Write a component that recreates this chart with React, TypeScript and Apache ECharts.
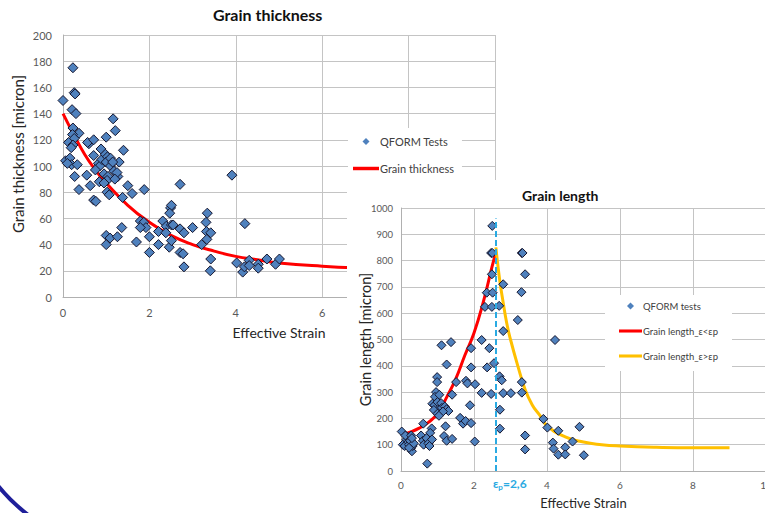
import React, { useEffect, useRef } from "react";
import * as echarts from "echarts";

const FONT = "Lato, 'Open Sans', sans-serif";

// Grain thickness – QFORM test points: [effective strain, thickness in micron]
const thicknessTests: number[][] = [
  [0.23, 175], [0, 150], [0.26, 156], [0.28, 155], [0.21, 143], [0.3, 140], [0.23, 129], [0.37, 125],
  [0.22, 124], [0.26, 121], [0.13, 118], [0.23, 116], [0.19, 114], [0.06, 104], [0.16, 106], [0.2, 101],
  [0.33, 101], [0.1, 102], [0.27, 92], [0.37, 82],
  [0.6, 117], [0.57, 118], [0.71, 120], [0.55, 93], [0.63, 85], [0.71, 74], [0.76, 73], [0.71, 108],
  [0.88, 113], [0.82, 102], [0.85, 100], [0.75, 97], [0.84, 88], [0.9, 105],
  [1.0, 122], [1.16, 136], [1.21, 127], [0.98, 109], [1.03, 107], [1.0, 103], [0.95, 94], [1.1, 100],
  [1.04, 92], [1.18, 96], [1.27, 92], [1.3, 103], [1.4, 112], [1.02, 89], [1.02, 80], [1.07, 78],
  [1.5, 85], [1.6, 79], [1.38, 76], [1.88, 82], [1.1, 106], [1.15, 103], [1.25, 95], [0.95, 87], [1.2, 90],
  [1.0, 47], [1.0, 40], [1.09, 45], [1.26, 46], [1.36, 53], [1.7, 42], [1.79, 58], [1.87, 57], [1.92, 53],
  [1.79, 53], [2.0, 46], [2.0, 34], [2.21, 40], [2.21, 50], [2.31, 58], [2.39, 54], [2.38, 49], [2.46, 38],
  [2.49, 68], [2.51, 70], [2.47, 64], [2.51, 55], [2.55, 55], [2.51, 43],
  [2.71, 86], [2.71, 52], [2.71, 34], [2.78, 33], [2.8, 49], [2.8, 23], [3.0, 53], [3.21, 40], [3.31, 57],
  [3.34, 64], [3.32, 50], [3.33, 44], [3.42, 49], [3.42, 29], [3.41, 20], [3.91, 93], [4.21, 56], [4.02, 26],
  [4.16, 19], [4.2, 23], [4.31, 28], [4.31, 24], [4.52, 25], [4.52, 22], [4.72, 29], [4.92, 25], [5.01, 29],
];

// Grain thickness – fitted trend
const thicknessFit: number[][] = [
  [0, 140], [0.25, 124], [0.5, 109], [0.75, 97], [1, 87], [1.5, 70], [2, 57], [2.5, 47], [3, 40],
  [3.5, 35], [4, 31], [4.5, 28.5], [5, 26], [6, 23.5], [7, 22], [8, 21], [9, 20.6], [10, 20.3],
];

// Grain length – QFORM test points: [effective strain, length in micron]
const lengthTests: number[][] = [
  [2.5, 932], [2.47, 829], [2.5, 829], [3.31, 829], [3.33, 829], [3.4, 748], [2.49, 748], [2.8, 710],
  [2.35, 678], [2.51, 678], [3.3, 680], [2.3, 624], [2.49, 624], [2.69, 628], [3.2, 574], [2.8, 532],
  [4.22, 498],
  [1.11, 478], [1.37, 490], [1.92, 467], [2.21, 498], [2.42, 467], [2.55, 410], [2.36, 394], [1.92, 394],
  [1.25, 405], [0.99, 357], [0.99, 338], [1.51, 338], [1.78, 343], [1.82, 333], [2.03, 330], [2.21, 297],
  [2.47, 293], [2.7, 360], [2.76, 345], [2.8, 296], [3.01, 296], [3.31, 338], [3.31, 298], [1.4, 290],
  [0.96, 300], [0.93, 282], [1.05, 290], [0.86, 256], [0.92, 250], [1.0, 262], [1.1, 258], [1.02, 233],
  [0.9, 232], [1.0, 218], [1.12, 240], [1.2, 245], [1.25, 235], [1.3, 228], [1.15, 226], [1.04, 210],
  [1.89, 250], [1.62, 202], [1.7, 180], [1.77, 190], [1.92, 182], [2.71, 233], [2.71, 161],
  [1.22, 170], [1.18, 133], [1.25, 115], [1.4, 122], [2.02, 112], [0.61, 180], [0.84, 162], [0.8, 145],
  [0.02, 150], [0.05, 100], [0.1, 95], [0.15, 120], [0.18, 130], [0.2, 110], [0.22, 100], [0.25, 115],
  [0.27, 85], [0.3, 75], [0.32, 95], [0.35, 105], [0.12, 135], [0.28, 135], [0.3, 125], [0.22, 88],
  [0.55, 135], [0.6, 115], [0.62, 100], [0.7, 125], [0.75, 105], [0.78, 95], [0.85, 120], [0.72, 28],
  [3.4, 135], [3.4, 82], [3.9, 198], [4.01, 165], [4.16, 108], [4.18, 85], [4.31, 153], [4.31, 62],
  [4.5, 90], [4.5, 63], [4.7, 112], [4.89, 168], [5.01, 60],
];

// Grain length – trend below the peak strain
const lengthFitBelow: number[][] = [
  [0, 138], [0.25, 148], [0.5, 163], [0.75, 185], [1, 218], [1.25, 280], [1.5, 350], [1.75, 440],
  [2, 525], [2.25, 640], [2.5, 780], [2.6, 830],
];

// Grain length – trend above the peak strain
const lengthFitAbove: number[][] = [
  [2.6, 850], [2.7, 730], [2.8, 640], [2.9, 560], [3.0, 500], [3.2, 400], [3.4, 310], [3.6, 250],
  [3.8, 212], [4.0, 172], [4.5, 130], [5, 110], [5.5, 100], [6, 95], [7, 90], [8, 88], [9, 88],
];

const peakStrain = 2.6;
const peakLineTop = 960;

const markerStyle = { color: "#4f81bd", borderColor: "#15152e", borderWidth: 1, opacity: 1 };
const gridLine = { lineStyle: { color: "#c4c4c4", width: 1 } };
// legend swatches: a thin bar for trend lines, a square diamond for test points
const LINE_ICON = "path://M0,0H30V4H0Z";
const DIAMOND_ICON = "path://M5,0L10,5L5,10L0,5Z";

function thicknessOption(): echarts.EChartsOption {
  return {
    animation: false,
    backgroundColor: "#ffffff",
    textStyle: { fontFamily: FONT },
    title: {
      text: "Grain thickness",
      left: 208,
      top: 1,
      textStyle: { fontFamily: FONT, fontSize: 16, fontWeight: "bold", color: "#111" },
    },
    grid: { left: 63, top: 35, width: 432, height: 262, outerBoundsMode: "none" } as any,
    legend: {
      left: 348,
      top: 128,
      orient: "vertical",
      backgroundColor: "#ffffff",
      padding: [8, 8, 8, 5],
      itemGap: 16,
      itemWidth: 26,
      itemHeight: 7,
      symbolKeepAspect: true,
      textStyle: { fontFamily: FONT, fontSize: 11, color: "#404040", padding: [0, 0, 0, -4] },
      data: [
        { name: "QFORM Tests", icon: DIAMOND_ICON, itemStyle: { color: "#4f81bd", borderWidth: 0 } },
        { name: "Grain thickness", icon: LINE_ICON },
      ],
    },
    xAxis: {
      type: "value",
      min: 0,
      max: 10,
      interval: 2,
      name: "Effective Strain",
      nameLocation: "middle",
      nameGap: 28,
      nameMoveOverlap: false,
      nameTextStyle: { fontFamily: FONT, fontSize: 14, color: "#262626" },
      axisLine: { lineStyle: { color: "#b0b0b0" } },
      axisTick: { show: false },
      axisLabel: { fontFamily: FONT, fontSize: 11, color: "#595959", margin: 10 },
      splitLine: gridLine,
    } as any,
    yAxis: {
      type: "value",
      min: 0,
      max: 200,
      interval: 20,
      axisLine: { show: true, lineStyle: { color: "#b0b0b0" } },
      axisTick: { show: false },
      axisLabel: { fontFamily: FONT, fontSize: 11, color: "#595959", margin: 11 },
      splitLine: gridLine,
    },
    series: [
      {
        name: "Grain thickness",
        type: "line",
        data: thicknessFit,
        smooth: true,
        symbol: "none",
        lineStyle: { color: "#ff0000", width: 3 },
        itemStyle: { color: "#ff0000" },
        z: 2,
      },
      {
        name: "QFORM Tests",
        type: "scatter",
        data: thicknessTests,
        symbol: "diamond",
        symbolSize: 10,
        itemStyle: markerStyle,
        z: 3,
      },
    ],
    graphic: [
      {
        type: "text",
        x: 18,
        y: 154,
        rotation: Math.PI / 2,
        style: {
          text: "Grain thickness [micron]",
          fontFamily: FONT,
          fontSize: 15,
          fill: "#262626",
          align: "center",
          verticalAlign: "middle",
        },
      },
      {
        type: "arc",
        shape: { cx: 140, cy: 370, r: 183, startAngle: 2.1, endAngle: 2.7 },
        style: { stroke: "#1f1f9a", lineWidth: 4, fill: "none" },
        z: 10,
      },
    ],
  };
}

function lengthOption(): echarts.EChartsOption {
  const peakLabel = "=" + String(peakStrain).replace(".", ",");
  const blue = "#2aaae2";
  return {
    animation: false,
    backgroundColor: "#ffffff",
    textStyle: { fontFamily: FONT },
    title: {
      text: "Grain length",
      left: 170,
      top: 3,
      textStyle: { fontFamily: FONT, fontSize: 14, fontWeight: "bold", color: "#111" },
    },
    grid: { left: 54, top: 28, width: 365, height: 263, outerBoundsMode: "none" } as any,
    legend: {
      left: 258,
      top: 115,
      orient: "vertical",
      backgroundColor: "#ffffff",
      padding: [6, 14, 10, 14],
      itemGap: 15,
      itemWidth: 23,
      itemHeight: 7,
      symbolKeepAspect: true,
      textStyle: { fontFamily: FONT, fontSize: 9.5, color: "#404040", padding: [0, 0, 0, -4] },
      data: [
        { name: "QFORM tests", icon: DIAMOND_ICON, itemStyle: { color: "#4f81bd", borderWidth: 0 } },
        { name: "Grain length_ε<εp", icon: LINE_ICON },
        { name: "Grain length_ε>εp", icon: LINE_ICON },
      ],
    },
    xAxis: {
      type: "value",
      min: 0,
      max: 10,
      interval: 2,
      name: "Effective Strain",
      nameLocation: "middle",
      nameGap: 25,
      nameMoveOverlap: false,
      nameTextStyle: { fontFamily: FONT, fontSize: 13, color: "#262626" },
      axisLine: { lineStyle: { color: "#b0b0b0" } },
      axisTick: { show: false },
      axisLabel: { fontFamily: FONT, fontSize: 10, color: "#595959", margin: 9 },
      splitLine: gridLine,
    } as any,
    yAxis: {
      type: "value",
      min: 0,
      max: 1000,
      interval: 100,
      name: "Grain length [micron]",
      nameLocation: "middle",
      nameGap: 28,
      nameMoveOverlap: false,
      nameTextStyle: { fontFamily: FONT, fontSize: 14.5, color: "#262626" },
      axisLine: { show: true, lineStyle: { color: "#b0b0b0" } },
      axisTick: { show: false },
      axisLabel: {
        fontFamily: FONT,
        fontSize: 9.5,
        color: "#595959",
        margin: 8,
        formatter: (v: number) => String(v),
      },
      splitLine: gridLine,
    } as any,
    series: [
      {
        name: "Grain length_ε<εp",
        type: "line",
        data: lengthFitBelow,
        smooth: true,
        symbol: "none",
        lineStyle: { color: "#ff0000", width: 3 },
        itemStyle: { color: "#ff0000" },
        z: 2,
      },
      {
        name: "Grain length_ε>εp",
        type: "line",
        data: lengthFitAbove,
        smooth: true,
        symbol: "none",
        lineStyle: { color: "#ffc000", width: 3 },
        itemStyle: { color: "#ffc000" },
        z: 2,
      },
      {
        name: "QFORM tests",
        type: "scatter",
        data: lengthTests,
        symbol: "diamond",
        symbolSize: 9,
        itemStyle: markerStyle,
        z: 3,
        markLine: {
          silent: true,
          symbol: "none",
          z: 5,
          lineStyle: { color: blue, width: 2, type: [6, 3] },
          label: {
            show: true,
            position: "start",
            distance: 4,
            align: "left",
            padding: [0, 0, 0, -3],
            formatter: "{e|ε}{s|p}{e|" + peakLabel + "}",
            rich: {
              e: { fontFamily: FONT, fontSize: 12, fontWeight: "bold", color: blue, lineHeight: 16 },
              s: {
                fontFamily: FONT,
                fontSize: 8,
                fontWeight: "bold",
                color: blue,
                lineHeight: 8,
                verticalAlign: "bottom",
              },
            },
          },
          data: [[{ coord: [peakStrain, 0] }, { coord: [peakStrain, peakLineTop] }]],
        },
      },
    ],
  };
}

function Chart({ style, option }: { style: React.CSSProperties; option: () => echarts.EChartsOption }) {
  const ref = useRef<HTMLDivElement>(null);
  useEffect(() => {
    if (!ref.current) return;
    const chart = echarts.init(ref.current, undefined, { renderer: "svg" });
    chart.setOption(option());
    return () => chart.dispose();
  }, [option]);
  return <div ref={ref} style={{ position: "absolute", ...style }} />;
}

export default function App() {
  return (
    <div
      style={{
        position: "fixed",
        left: 0,
        top: 0,
        width: 765,
        height: 513,
        overflow: "hidden",
        background: "#ffffff",
      }}
    >
      <Chart style={{ left: 0, top: 0, width: 765, height: 513 }} option={thicknessOption} />
      <Chart style={{ left: 347, top: 180, width: 430, height: 333 }} option={lengthOption} />
    </div>
  );
}
